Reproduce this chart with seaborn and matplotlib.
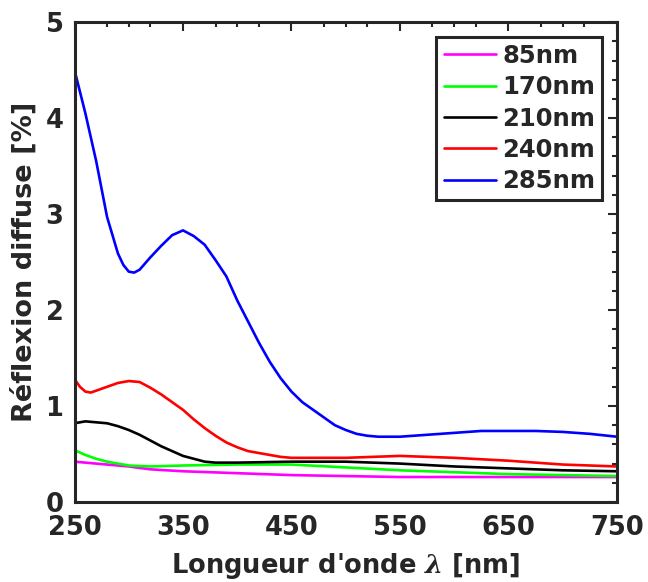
import numpy as np
import pandas as pd
import matplotlib
matplotlib.use("Agg")
import matplotlib.pyplot as plt
import seaborn as sns
from matplotlib.ticker import FixedLocator

# Data (wavelength in nm, diffuse reflection in %)
labels = ["85nm", "170nm", "210nm", "240nm", "285nm"]
colors = ["#ff00ff", "#00ff00", "#000000", "#ff0000", "#0000ff"]

wl_85 = [250, 280, 300, 320, 350, 400, 450, 500, 550, 600, 650, 700, 750]
r_85 = [0.42, 0.39, 0.37, 0.34, 0.32, 0.30, 0.28, 0.27, 0.26, 0.26, 0.26, 0.26, 0.26]

wl_170 = [250, 260, 270, 280, 290, 300, 320, 350, 400, 450, 500, 550, 600, 650, 700, 750]
r_170 = [0.54, 0.49, 0.45, 0.42, 0.40, 0.38, 0.37, 0.38, 0.39, 0.39, 0.36, 0.33, 0.31, 0.29, 0.28, 0.27]

wl_210 = [250, 260, 270, 280, 290, 300, 310, 320, 330, 340, 350, 360, 370, 380, 400,
          450, 500, 550, 600, 650, 700, 750]
r_210 = [0.82, 0.84, 0.83, 0.82, 0.79, 0.75, 0.70, 0.64, 0.58, 0.53, 0.48, 0.45, 0.42, 0.41, 0.41,
         0.42, 0.42, 0.40, 0.37, 0.35, 0.33, 0.32]

wl_240 = [250, 255, 260, 265, 270, 280, 290, 300, 310, 320, 330, 340, 350, 360, 370, 380,
          390, 400, 410, 420, 430, 440, 450, 500, 550, 600, 650, 700, 750]
r_240 = [1.28, 1.20, 1.15, 1.14, 1.16, 1.20, 1.24, 1.26, 1.25, 1.19, 1.12, 1.04, 0.96, 0.86, 0.77, 0.69,
         0.62, 0.57, 0.53, 0.51, 0.49, 0.47, 0.46, 0.46, 0.48, 0.46, 0.43, 0.39, 0.37]

wl_285 = [250, 260, 270, 280, 290, 295, 300, 305, 310, 320, 330, 340, 350, 360, 370, 380, 390, 400,
          410, 420, 430, 440, 450, 460, 470, 480, 490, 500, 510, 520, 530, 540, 550,
          575, 600, 625, 650, 675, 700, 725, 750]
r_285 = [4.50, 4.05, 3.55, 2.97, 2.59, 2.47, 2.40, 2.39, 2.42, 2.55, 2.67, 2.78, 2.83, 2.77, 2.68, 2.52,
         2.35, 2.10, 1.88, 1.66, 1.46, 1.29, 1.15, 1.04, 0.96, 0.88, 0.80, 0.75, 0.71, 0.69, 0.68, 0.68,
         0.68, 0.70, 0.72, 0.74, 0.74, 0.74, 0.73, 0.71, 0.68]

x_major = [250, 350, 450, 550, 650, 750]
y_major = [0, 1, 2, 3, 4, 5]

series = [(wl_85, r_85), (wl_170, r_170), (wl_210, r_210), (wl_240, r_240), (wl_285, r_285)]
df = pd.concat(
    [pd.DataFrame({"wl": w, "r": r, "sample": lab}) for (w, r), lab in zip(series, labels)],
    ignore_index=True,
)

sns.set_style("white")
plt.rcParams["font.family"] = ["DejaVu Sans"]
plt.rcParams["font.weight"] = "bold"
plt.rcParams["mathtext.fontset"] = "dejavuserif"

fig = plt.figure(figsize=(6.48, 5.82), dpi=100)
ax = fig.add_axes([0.115, 0.1375, 0.837, 0.8245])

sns.lineplot(data=df, x="wl", y="r", hue="sample", hue_order=labels,
             palette=dict(zip(labels, colors)), linewidth=1.9, ax=ax, legend=False,
             sort=False, estimator=None)

ax.set_xlim(250, 750)
ax.set_ylim(0, 5)
ax.xaxis.set_major_locator(FixedLocator(x_major))
ax.yaxis.set_major_locator(FixedLocator(y_major))
# MATLAB-style minor ticks: every 20 nm, except close to a labelled tick
minor_x = [v for v in range(260, 750, 20) if min(abs(v - m) for m in x_major) > 10]
ax.xaxis.set_minor_locator(FixedLocator(minor_x))
ax.yaxis.set_minor_locator(FixedLocator(np.arange(0.2, 5, 0.2)))

dark = "#262626"
for s in ax.spines.values():
    s.set_visible(True)
    s.set_linewidth(2.2)
    s.set_color(dark)
ax.tick_params(which="both", direction="in", top=True, right=True, color=dark, width=1.5)
ax.tick_params(which="major", length=6.5, labelsize=18.5, labelcolor=dark)
ax.tick_params(axis="x", which="major", pad=9.5)
ax.tick_params(axis="y", which="major", pad=8)
ax.tick_params(which="minor", length=3.5)
for t in ax.get_xticklabels() + ax.get_yticklabels():
    t.set_fontweight("bold")

ax.set_xlabel(r"Longueur d'onde $\lambda$ [nm]", fontsize=18.5, fontweight="bold", color=dark)
ax.set_ylabel("Réflexion diffuse [%]", fontsize=19.5, fontweight="bold", color=dark)
ax.xaxis.set_label_coords(0.5, -0.103)
ax.yaxis.set_label_coords(-0.068, 0.5)

handles = [plt.Line2D([], [], color=c, linewidth=1.9) for c in colors]
leg = ax.legend(handles, labels, loc="upper right", frameon=True, fancybox=False,
                handlelength=2.15, handletextpad=0.25, labelspacing=0.3, borderaxespad=0.6,
                borderpad=0.3, prop={"weight": "bold", "size": 17.5})
leg.get_frame().set_edgecolor(dark)
leg.get_frame().set_linewidth(2.2)
leg.get_frame().set_alpha(1)

fig.savefig("out.png", dpi=100)
